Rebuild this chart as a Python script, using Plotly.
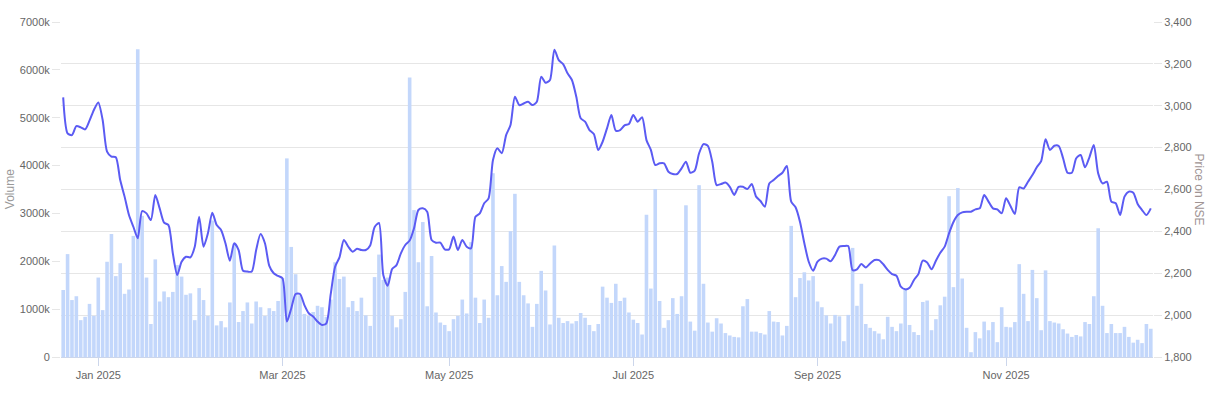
import plotly.graph_objects as go

# Daily volume (thousands of shares), one value per trading session
volume_k = [
    1400, 2150, 1190, 1270, 770, 840, 1110, 860, 1660, 980,
    1990, 2570, 1690, 1960, 1320, 1410, 2530, 6430, 2950, 1660,
    690, 2040, 1160, 1370, 1250, 1360, 1920, 1680, 1300, 1330,
    770, 1440, 1190, 860, 2850, 660, 750, 620, 1140, 2370,
    730, 960, 1140, 700, 1160, 1040, 860, 1020, 960, 1170,
    1650, 4150, 2300, 1730, 1290, 900, 860, 940, 1070, 1040,
    840, 1200, 1980, 1630, 1680, 1040, 1170, 960, 1240, 870,
    650, 1670, 2140, 1610, 1660, 860, 620, 790, 1360, 5840,
    3070, 1980, 2820, 1060, 2110, 930, 720, 670, 540, 790,
    860, 1200, 910, 2400, 1240, 710, 1200, 820, 3840, 1290,
    1900, 1570, 2630, 3410, 1570, 1290, 1120, 630, 1110, 1800,
    1390, 680, 2330, 820, 710, 750, 700, 750, 920, 820,
    670, 540, 690, 1470, 1240, 1130, 1530, 1170, 1240, 930,
    780, 710, 470, 2970, 1430, 3510, 1170, 610, 770, 1230,
    900, 1270, 3170, 740, 550, 3590, 1530, 720, 530, 810,
    700, 500, 450, 420, 410, 1060, 1210, 530, 530, 500,
    470, 960, 740, 730, 450, 650, 2740, 1250, 1650, 1770,
    1600, 1690, 1160, 1040, 870, 700, 880, 850, 330, 880,
    2280, 1070, 1530, 690, 610, 540, 490, 370, 840, 630,
    540, 700, 1430, 670, 520, 460, 1150, 1180, 560, 790,
    1080, 1260, 3360, 1460, 3530, 1640, 610, 100, 520, 390,
    740, 560, 730, 310, 1040, 630, 620, 730, 1940, 1320,
    750, 1820, 1230, 560, 1810, 750, 720, 700, 580, 490,
    420, 460, 430, 730, 690, 1270, 2690, 1070, 500, 690,
    500, 500, 630, 420, 300, 360, 290, 690, 590,
]

# Closing price on NSE, one value per trading session
price = [
    3040, 2868, 2860, 2903, 2897, 2887, 2929, 2980, 3016, 2932,
    2781, 2757, 2754, 2645, 2566, 2478, 2422, 2367, 2497, 2486,
    2454, 2574, 2510, 2442, 2430, 2295, 2192, 2255, 2279, 2276,
    2327, 2470, 2327, 2391, 2489, 2430, 2407, 2343, 2260, 2343,
    2311, 2212, 2208, 2208, 2311, 2387, 2343, 2235, 2200, 2187,
    2176, 1969, 2032, 2101, 2101, 2048, 2009, 1993, 1969, 1953,
    1961, 2100, 2231, 2276, 2359, 2327, 2303, 2317, 2311, 2311,
    2333, 2420, 2440, 2190, 2140, 2220, 2239, 2295, 2335, 2356,
    2415, 2502, 2510, 2494, 2359, 2346, 2346, 2314, 2314, 2375,
    2311, 2359, 2327, 2319, 2470, 2486, 2534, 2558, 2741, 2797,
    2773, 2860, 2908, 3043, 3003, 3011, 3019, 3003, 3019, 3139,
    3110, 3123, 3268, 3218, 3199, 3155, 3123, 3043, 2940, 2924,
    2884, 2865, 2789, 2828, 2892, 2956, 2881, 2884, 2906, 2913,
    2956, 2924, 2945, 2836, 2789, 2717, 2725, 2725, 2685, 2674,
    2674, 2701, 2733, 2680, 2690, 2773, 2817, 2808, 2733, 2621,
    2626, 2633, 2613, 2574, 2613, 2613, 2602, 2626, 2566, 2545,
    2518, 2629, 2645, 2664, 2680, 2712, 2542, 2515, 2446, 2343,
    2255, 2212, 2255, 2270, 2270, 2257, 2287, 2327, 2330, 2330,
    2215, 2219, 2244, 2228, 2247, 2263, 2263, 2243, 2216, 2196,
    2188, 2136, 2123, 2131, 2168, 2196, 2260, 2251, 2219, 2260,
    2298, 2327, 2391, 2445, 2478, 2491, 2494, 2494, 2505, 2510,
    2574, 2542, 2510, 2505, 2486, 2558, 2521, 2483, 2610, 2605,
    2637, 2669, 2706, 2736, 2840, 2789, 2809, 2808, 2749, 2680,
    2680, 2749, 2765, 2706, 2754, 2813, 2677, 2629, 2637, 2542,
    2534, 2478, 2566, 2590, 2585, 2531, 2502, 2478, 2510,
]

# Month labels and the session index where each month starts
month_labels = ["Jan 2025", "Mar 2025", "May 2025", "Jul 2025", "Sep 2025", "Nov 2025"]
month_start_idx = [8, 50, 88, 130, 172, 215]

volume_ticks = [0, 1000, 2000, 3000, 4000, 5000, 6000, 7000]
volume_tick_text = ["0"] + [f"{v}k" for v in volume_ticks[1:]]
price_ticks = [1800, 2000, 2200, 2400, 2600, 2800, 3000, 3200, 3400]

sessions = list(range(len(volume_k)))

FONT = "Liberation Sans, Arial, Helvetica, sans-serif"
LABEL = "#666666"
GRID = "#e6e6e6"

fig = go.Figure()
fig.add_trace(go.Bar(
    x=sessions, y=volume_k, yaxis="y",
    marker=dict(color="#c3d7fb", line=dict(width=0)),
    name="Volume", hoverinfo="skip",
))
fig.add_trace(go.Scatter(
    x=sessions[:len(price)], y=price, yaxis="y2", mode="lines",
    line=dict(color="#5b5bf3", width=2, shape="spline", smoothing=0.7),
    name="Price", hoverinfo="skip",
))

fig.update_layout(
    width=1218, height=396,
    margin=dict(l=61, r=65, t=22, b=39),
    paper_bgcolor="white", plot_bgcolor="white",
    showlegend=False, bargap=0.18,
    font=dict(family=FONT, size=11, color=LABEL),
    xaxis=dict(
        range=[-0.5, len(volume_k) - 0.5],
        tickvals=month_start_idx, ticktext=month_labels,
        ticks="outside", ticklen=8, tickcolor="#ccd6eb",
        showline=True, linecolor="#ccd6eb", linewidth=1,
        showgrid=False, zeroline=False,
        tickfont=dict(size=11, color=LABEL),
    ),
    yaxis=dict(
        range=[0, 7000], tickvals=volume_ticks, ticktext=volume_tick_text,
        ticks="outside", ticklen=8, tickcolor=GRID,
        showgrid=False, zeroline=False, showline=False,
        tickfont=dict(size=11, color=LABEL),
    ),
    yaxis2=dict(
        range=[1800, 3400], tickvals=price_ticks, tickformat=",",
        overlaying="y", side="right",
        ticks="outside", ticklen=8, tickcolor=GRID,
        showgrid=True, gridcolor=GRID, gridwidth=1,
        zeroline=False, showline=False,
        tickfont=dict(size=11, color=LABEL),
    ),
    annotations=[
        dict(text="Volume", xref="paper", yref="paper", x=-0.047, y=0.5,
             xanchor="center", yanchor="middle", textangle=-90, showarrow=False,
             font=dict(family=FONT, size=12, color="#999999")),
        dict(text="Price on NSE", xref="paper", yref="paper", x=1.043, y=0.5,
             xanchor="center", yanchor="middle", textangle=90, showarrow=False,
             font=dict(family=FONT, size=12, color="#a09494")),
    ],
)

fig.write_html("out.html")
